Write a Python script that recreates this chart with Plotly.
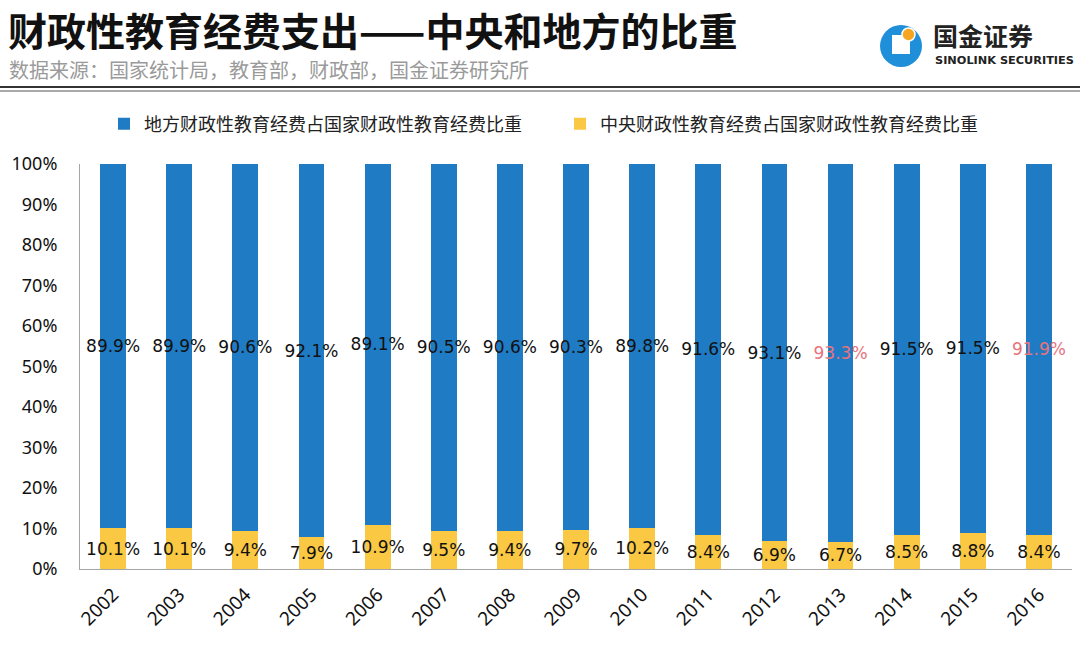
import plotly.graph_objects as go

years = ["2002", "2003", "2004", "2005", "2006", "2007", "2008", "2009",
         "2010", "2011", "2012", "2013", "2014", "2015", "2016"]
local_share = [89.9, 89.9, 90.6, 92.1, 89.1, 90.5, 90.6, 90.3, 89.8, 91.6, 93.1, 93.3, 91.5, 91.5, 91.9]
central_share = [10.1, 10.1, 9.4, 7.9, 10.9, 9.5, 9.4, 9.7, 10.2, 8.4, 6.9, 6.7, 8.5, 8.8, 8.4]
local_label_colors = ["#111111"] * 11 + ["#E8737C", "#111111", "#111111", "#E8737C"]

name_local = "地方财政性教育经费占国家财政性教育经费比重"
name_central = "中央财政性教育经费占国家财政性教育经费比重"
title = "财政性教育经费支出——中央和地方的比重"
source = "数据来源：国家统计局，教育部，财政部，国金证券研究所"

BLUE = "#1F7BC3"
YELLOW = "#FAC843"

W, H = 1080, 671
L, R, T, B = 80, 8, 164, 102
pw, ph = W - L - R, H - T - B

def px(x):
    return (x - L) / pw

def py(y):
    return (H - B - y) / ph

fig = go.Figure()
fig.add_trace(go.Bar(
    x=years, y=[v / 100 for v in central_share], name=name_central,
    marker=dict(color=YELLOW, line=dict(width=0)),
    text=[f"{v:.1f}%" for v in central_share], textposition="inside",
    insidetextanchor="middle", textangle=0,
    textfont=dict(family="DejaVu Sans", size=17, color="#111111"),
    hoverinfo="skip", legend="legend2",
))
fig.add_trace(go.Bar(
    x=years, y=[v / 100 for v in local_share], name=name_local,
    marker=dict(color=BLUE, line=dict(width=0)),
    text=[f"{v:.1f}%" for v in local_share], textposition="inside",
    insidetextanchor="middle", textangle=0,
    textfont=dict(family="DejaVu Sans", size=17, color=local_label_colors),
    hoverinfo="skip", legend="legend",
))

annotations = [
    dict(text=f"<b>{title}</b>", x=px(6), y=py(29), xref="paper", yref="paper",
         xanchor="left", yanchor="middle", showarrow=False,
         font=dict(family="Noto Sans CJK SC", size=39, color="#111111")),
    dict(text=source, x=px(7), y=py(69), xref="paper", yref="paper",
         xanchor="left", yanchor="middle", showarrow=False,
         font=dict(family="Noto Sans CJK SC", size=20, color="#9a9a9a")),
    dict(text="<b>国金证券</b>", x=px(931), y=py(35), xref="paper", yref="paper",
         xanchor="left", yanchor="middle", showarrow=False,
         font=dict(family="Noto Sans CJK SC", size=25, color="#222222")),
    dict(text="<b>SINOLINK SECURITIES</b>", x=px(933), y=py(61), xref="paper", yref="paper",
         xanchor="left", yanchor="middle", showarrow=False,
         font=dict(family="DejaVu Sans", size=11.3, color="#222222")),
]

shapes = [
    dict(type="line", xref="paper", yref="paper", x0=px(0), x1=px(W), y0=py(87), y1=py(87),
         line=dict(color="#333333", width=2)),
    dict(type="line", xref="paper", yref="paper", x0=px(0), x1=px(W), y0=py(91), y1=py(91),
         line=dict(color="#555555", width=1)),
    # logo
    dict(type="circle", xref="paper", yref="paper", x0=px(880), x1=px(922), y0=py(25), y1=py(67),
         fillcolor="#1E8FD8", line=dict(width=0)),
    dict(type="rect", xref="paper", yref="paper", x0=px(892), x1=px(910), y0=py(35), y1=py(54),
         fillcolor="white", line=dict(width=0)),
    dict(type="circle", xref="paper", yref="paper", x0=px(902), x1=px(915), y0=py(28), y1=py(41),
         fillcolor="#F6A623", line=dict(color="white", width=1.5)),
]

legend_font = dict(family="Noto Sans CJK SC", size=18, color="#222222")
fig.update_layout(
    width=W, height=H,
    margin=dict(l=L, r=R, t=T, b=B, autoexpand=False),
    paper_bgcolor="white", plot_bgcolor="white",
    barmode="stack", bargap=0.61,
    uniformtext=dict(mode="show", minsize=17),
    showlegend=True,
    legend=dict(orientation="h", x=px(104), xanchor="left", y=py(124), yanchor="middle",
                font=legend_font, itemwidth=30),
    legend2=dict(orientation="h", x=px(560), xanchor="left", y=py(124), yanchor="middle",
                 font=legend_font, itemwidth=30),
    annotations=annotations, shapes=shapes,
    font=dict(family="Noto Sans", color="#222222"),
)
fig.update_xaxes(
    type="category", showline=True, linecolor="#a6a6a6", linewidth=1,
    tickangle=-45, tickfont=dict(family="Noto Sans", size=19, color="#111111"),
    ticks="", showgrid=False, range=[-0.5, 14.5], ticklabelstandoff=6,
)
fig.update_yaxes(
    range=[0, 1], tickvals=[i / 10 for i in range(11)],
    ticktext=[f"{i * 10}%" for i in range(11)],
    showline=True, linecolor="#a6a6a6", linewidth=1, showgrid=False,
    zeroline=False, ticks="", ticklabelstandoff=18,
    tickfont=dict(family="Noto Sans", size=18, color="#111111"),
)

fig.write_html("out.html", config={"displayModeBar": False},
               post_script="document.body.style.margin='0px';")
